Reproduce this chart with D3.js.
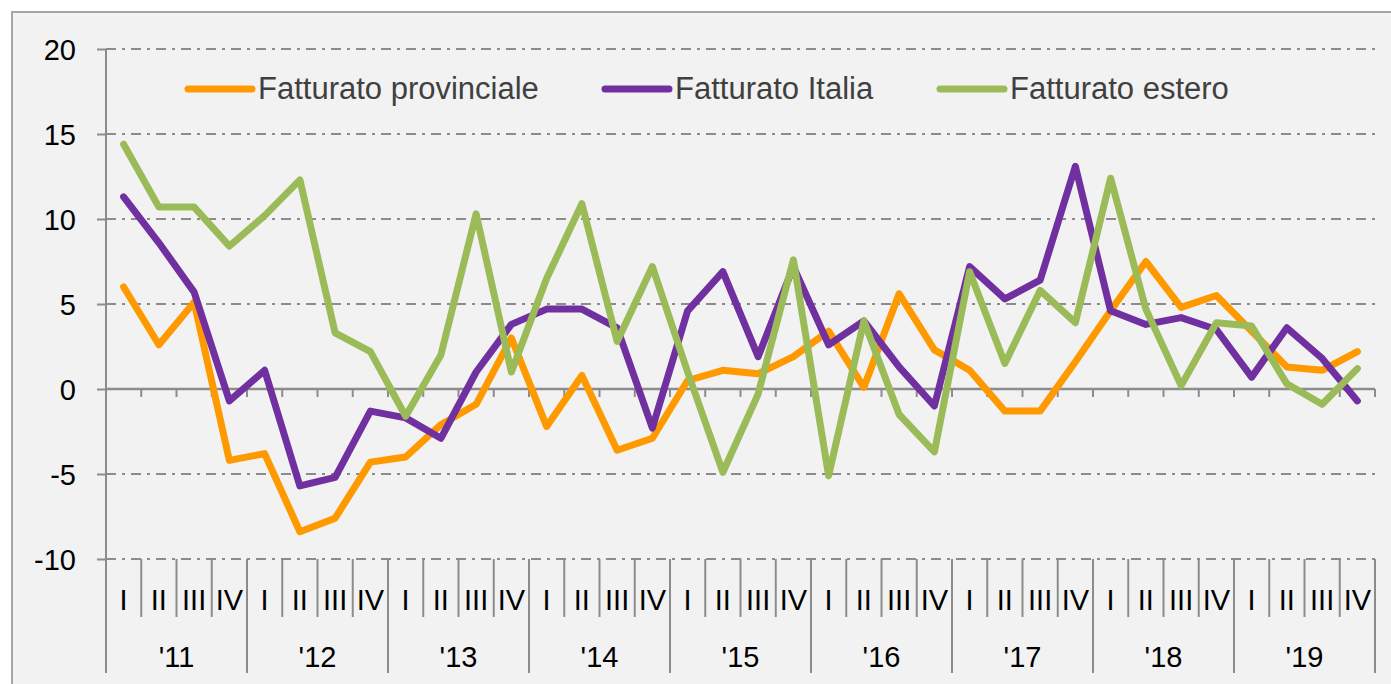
<!DOCTYPE html>
<html>
<head>
<meta charset="utf-8">
<script src="https://d3js.org/d3.v7.min.js"></script>
<style>
html,body{margin:0;padding:0;background:#fff;}
svg{display:block;}
text{font-family:"Liberation Sans",Arial,sans-serif;}
</style>
</head>
<body>
<svg id="chart" width="1391" height="684"></svg>
<script>
const years = ["'11","'12","'13","'14","'15","'16","'17","'18","'19"];
const quarters = ["I","II","III","IV"];
const yTicks = [-10,-5,0,5,10,15,20];
const seriesNames = ["Fatturato provinciale","Fatturato Italia","Fatturato estero"];
const seriesColors = ["#ff9900","#7030a0","#9bbb59"];

const provinciale = [6.0,2.6,5.1,-4.2, -3.8,-8.4,-7.6,-4.3, -4.0,-2.1,-0.9,3.0, -2.2,0.8,-3.6,-2.9,
  0.5,1.1,0.9,1.9, 3.4,0.1,5.6,2.3, 1.1,-1.3,-1.3,1.6, 4.6,7.5,4.8,5.5, 3.4,1.3,1.1,2.2];
const italia = [11.3,8.6,5.7,-0.7, 1.1,-5.7,-5.2,-1.3, -1.7,-2.9,1.0,3.8, 4.7,4.7,3.6,-2.3,
  4.6,6.9,1.9,7.2, 2.6,4.0,1.3,-1.0, 7.2,5.3,6.4,13.1, 4.6,3.8,4.2,3.5, 0.7,3.6,1.8,-0.7];
const estero = [14.4,10.7,10.7,8.4, 10.2,12.3,3.3,2.2, -1.6,2.0,10.3,1.0, 6.5,10.9,2.8,7.2,
  1.0,-4.9,-0.3,7.6, -5.1,4.0,-1.5,-3.7, 6.9,1.5,5.8,3.9, 12.4,4.7,0.2,3.9, 3.7,0.3,-0.9,1.2];

const seriesValues = [provinciale, italia, estero];

(function(){
const svg = d3.select("#chart");
const axisColor = "#8c8c8c";

// frame
svg.append("rect").attr("x",12).attr("y",12).attr("width",1400).attr("height",700)
  .attr("fill","#f2f2f2").attr("stroke","#a6a6a6").attr("stroke-width",2);

const pL = 106, pR = 1375, pT = 49, pB = 559;

const cats = [];
years.forEach(yr => quarters.forEach(q => cats.push(yr + "-" + q)));

const x = d3.scaleBand().domain(cats).range([pL,pR]).paddingInner(0).paddingOuter(0);
const y = d3.scaleLinear().domain([-10,20]).range([pB,pT]);

// gridlines
svg.append("g").selectAll("line").data(yTicks.filter(d => d !== 0)).join("line")
  .attr("x1",pL).attr("x2",pR)
  .attr("y1",d => y(d)).attr("y2",d => y(d))
  .attr("stroke",axisColor).attr("stroke-width",2)
  .attr("stroke-dasharray","10,6,3,6");

// y axis
const yAxis = d3.axisLeft(y).tickValues(yTicks).tickSize(9).tickPadding(21).tickFormat(d => String(d));
const gy = svg.append("g").attr("transform",`translate(${pL},0)`).call(yAxis);
gy.select(".domain").remove();
gy.selectAll(".tick line").attr("stroke",axisColor).attr("stroke-width",2);
gy.selectAll(".tick text").attr("font-size",29).attr("fill","#000")
  .attr("font-family","'Liberation Sans',Arial,sans-serif").attr("dy","0.36em");
svg.append("line").attr("x1",pL).attr("x2",pL).attr("y1",pT).attr("y2",673)
  .attr("stroke",axisColor).attr("stroke-width",2);

// zero line with ticks
svg.append("line").attr("x1",pL).attr("x2",pR).attr("y1",y(0)).attr("y2",y(0))
  .attr("stroke",axisColor).attr("stroke-width",2.5);
const boundaries = d3.range(cats.length+1).map(i => pL + i*x.bandwidth());
svg.append("g").selectAll("line").data(boundaries).join("line")
  .attr("x1",d=>d).attr("x2",d=>d).attr("y1",y(0)).attr("y2",y(0)+8)
  .attr("stroke",axisColor).attr("stroke-width",2);

// category dividers
svg.append("g").selectAll("line").data(boundaries).join("line")
  .attr("x1",d=>d).attr("x2",d=>d).attr("y1",pB)
  .attr("y2",(d,i)=> i%4===0 ? 673 : 617)
  .attr("stroke",axisColor).attr("stroke-width",2);

// quarter labels
svg.append("g").selectAll("text").data(cats).join("text")
  .attr("x",d => x(d)+x.bandwidth()/2).attr("y",610)
  .attr("text-anchor","middle").attr("font-size",29).attr("fill","#000")
  .text(d => d.split("-")[1]);

// year labels
svg.append("g").selectAll("text").data(years).join("text")
  .attr("x",d => (x(d+"-I")+x(d+"-IV")+x.bandwidth())/2).attr("y",667)
  .attr("text-anchor","middle").attr("font-size",29).attr("fill","#000")
  .text(d => d);

// lines
const line = d3.line().x((d,i) => x(cats[i])+x.bandwidth()/2).y(d => y(d)).curve(d3.curveLinear);
seriesValues.forEach((vals,k) => {
  svg.append("path").datum(vals).attr("d",line).attr("fill","none")
    .attr("stroke",seriesColors[k]).attr("stroke-width",7)
    .attr("stroke-linejoin","round").attr("stroke-linecap","round");
});

// legend
const legendX = [188,605,940];
seriesNames.forEach((n,k) => {
  svg.append("line").attr("x1",legendX[k]).attr("x2",legendX[k]+64).attr("y1",89).attr("y2",89)
    .attr("stroke",seriesColors[k]).attr("stroke-width",7).attr("stroke-linecap","round");
  svg.append("text").attr("x",legendX[k]+70).attr("y",99).attr("font-size",31)
    .attr("fill","#404040").text(n);
});
})();
</script>
</body>
</html>
